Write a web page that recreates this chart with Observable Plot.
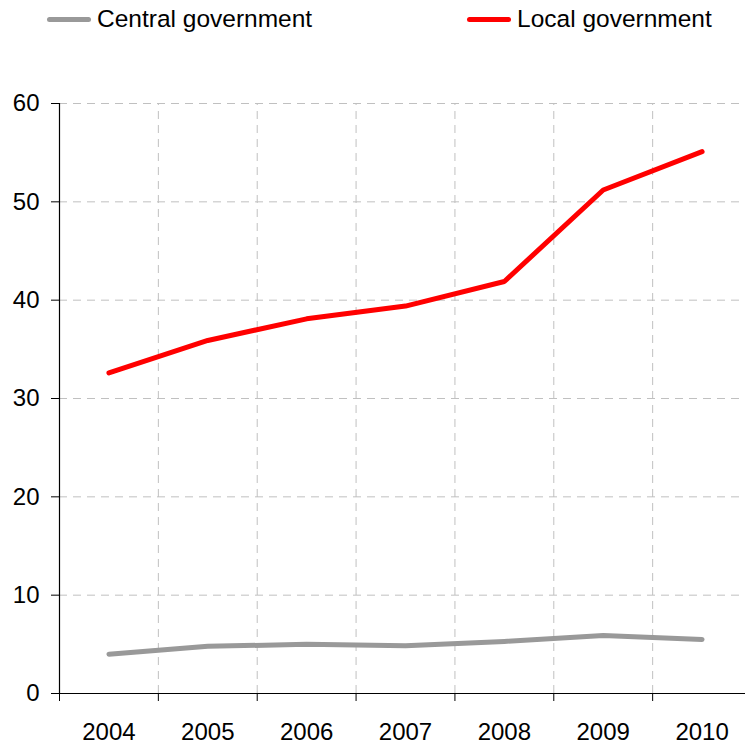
<!DOCTYPE html>
<html><head><meta charset="utf-8">
<script src="https://cdn.jsdelivr.net/npm/d3@7"></script>
<script src="https://cdn.jsdelivr.net/npm/@observablehq/plot@0.6"></script>
<style>
body{margin:0;background:#fff;font-family:"Liberation Sans",Arial,sans-serif;}
#legend{position:relative;height:40px;width:745px;}
.item{position:absolute;top:-1px;height:40px;display:flex;align-items:center;font-size:24.5px;color:#000;white-space:nowrap;}
.swatch{display:inline-block;width:44px;height:5px;border-radius:2.5px;margin-right:6px;}
</style></head><body>
<div id="legend"></div>
<div id="chart"></div>
<script>
const years = [2004, 2005, 2006, 2007, 2008, 2009, 2010];
const central = [4.0, 4.8, 5.0, 4.85, 5.3, 5.9, 5.5];
const local = [32.6, 35.9, 38.1, 39.4, 41.9, 51.2, 55.1];
const seriesNames = ["Central government", "Local government"];
const seriesColors = ["#999999", "#ff0000"];
const yTicks = [0, 10, 20, 30, 40, 50, 60];

const data = [
  ...years.map((y, i) => ({year: y, value: central[i], series: seriesNames[0]})),
  ...years.map((y, i) => ({year: y, value: local[i], series: seriesNames[1]}))
];
const bounds = [years[0] - 0.5, ...years.map(y => y + 0.5)];

const legend = document.getElementById("legend");
const legendLeft = [47, 467];
seriesNames.forEach((n, i) => {
  const d = document.createElement("div");
  d.className = "item";
  d.style.left = legendLeft[i] + "px";
  d.innerHTML = `<span class="swatch" style="background:${seriesColors[i]}"></span><span>${n}</span>`;
  legend.appendChild(d);
});

const chart = Plot.plot({
  width: 745,
  height: 704,
  marginTop: 63,
  marginBottom: 51,
  marginLeft: 59,
  marginRight: 0,
  style: {fontFamily: '"Liberation Sans", Arial, sans-serif', fontSize: "24px", background: "white", color: "black", overflow: "visible"},
  x: {type: "linear", domain: [bounds[0], bounds[bounds.length - 1]], range: [59, 751]},
  y: {domain: [0, 60]},
  color: {domain: seriesNames, range: seriesColors},
  marks: [
    Plot.gridY(yTicks.slice(1), {stroke: "#c0c0c0", strokeOpacity: 1, strokeDasharray: "8,6"}),
    Plot.ruleX(bounds.slice(1), {y1: 0, y2: 60, stroke: "#c0c0c0", strokeDasharray: "8,6"}),
    Plot.axisY(yTicks, {tickSize: 8, tickPadding: 12, fontSize: 24, label: null, stroke: "black"}),
    Plot.axisX(bounds, {tickSize: 8, tickFormat: () => "", label: null, stroke: "black"}),
    Plot.axisX(years, {tickSize: 0, tickPadding: 29, fontSize: 24, tickFormat: d => String(d), label: null}),
    Plot.ruleY([0], {stroke: "black", strokeWidth: 1.2}),
    Plot.ruleX([bounds[0]], {y1: 0, y2: 60, stroke: "black", strokeWidth: 1.2}),
    Plot.line(data, {x: "year", y: "value", z: "series", stroke: "series", strokeWidth: 5, strokeLinecap: "round", strokeLinejoin: "round"})
  ]
});
document.getElementById("chart").appendChild(chart);
</script>
</body></html>
